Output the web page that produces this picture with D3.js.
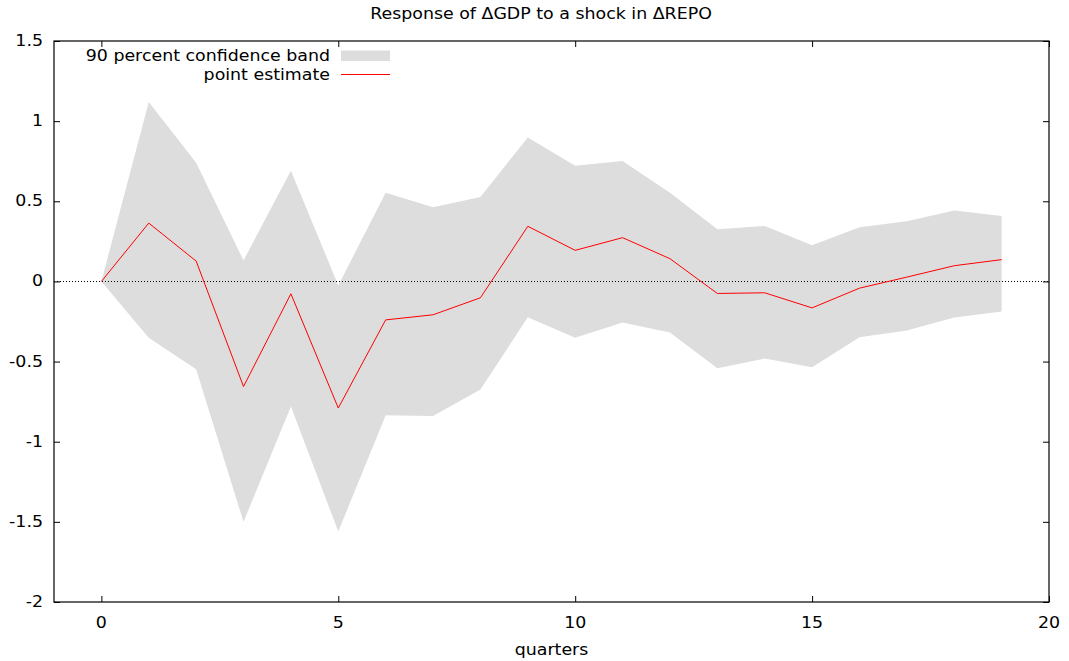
<!DOCTYPE html>
<html>
<head>
<meta charset="utf-8">
<script src="https://cdn.jsdelivr.net/npm/d3@7"></script>
<style>
  body { margin: 0; background: #fff; }
  text { font-family: "DejaVu Sans", sans-serif; fill: #000; font-size: 15px; }
</style>
</head>
<body>
<div id="chart"></div>
<script>
// horizon (quarters)
var quarters = d3.range(0, 20);
// point estimate of the impulse response
var pointEstimate = [0, 0.364, 0.127, -0.656, -0.077, -0.79, -0.24, -0.208, -0.102, 0.344,
  0.194, 0.273, 0.142, -0.075, -0.071, -0.165, -0.042, 0.027, 0.098, 0.136];
// 90 percent band
var upperBand = [0, 1.12, 0.74, 0.131, 0.69, -0.025, 0.554, 0.4625, 0.527, 0.898,
  0.721, 0.752, 0.554, 0.325, 0.346, 0.225, 0.3375, 0.375, 0.442, 0.408];
var lowerBand = [0, -0.352, -0.548, -1.5, -0.78, -1.56, -0.835, -0.84, -0.675, -0.223,
  -0.352, -0.256, -0.319, -0.542, -0.481, -0.535, -0.348, -0.306, -0.225, -0.1875];
var xTicks = [0, 5, 10, 15, 20];
var yTicks = [-2, -1.5, -1, -0.5, 0, 0.5, 1, 1.5];

// the reference font is wide (verdana-like), stretch DejaVu a bit
var stretch = 1.16;

function addText(parent, x, y, str, anchor) {
  return parent
    .append("text")
    .attr("transform", "translate(" + x + "," + y + ") scale(" + stretch + ",1)")
    .attr("text-anchor", anchor || "start")
    .text(str);
}

function init() {
  var w = 1069;
  var h = 661;
  var margin = { top: 41, right: 20, bottom: 59, left: 54 };

  var svg = d3
    .select("#chart")
    .append("svg")
    .attr("width", w)
    .attr("height", h);

  var x = d3.scaleLinear().domain([-1, 20]).range([margin.left, w - margin.right]);
  var y = d3.scaleLinear().domain([-2, 1.5]).range([h - margin.bottom, margin.top]);

  var data = quarters.map((q, i) => ({
    q: q,
    est: pointEstimate[i],
    lo: lowerBand[i],
    hi: upperBand[i]
  }));

  // Confidence band
  var area = d3
    .area()
    .x((d) => x(d.q))
    .y0((d) => y(d.lo))
    .y1((d) => y(d.hi));

  svg.append("path").datum(data).attr("d", area).attr("fill", "#dddddd");

  // Zero line
  svg
    .append("line")
    .attr("x1", x(-1))
    .attr("x2", x(20))
    .attr("y1", Math.round(y(0)) + 0.5)
    .attr("y2", Math.round(y(0)) + 0.5)
    .attr("stroke", "#000")
    .attr("stroke-width", 1)
    .attr("stroke-dasharray", "1,2");

  // Point estimate
  var line = d3
    .line()
    .x((d) => x(d.q))
    .y((d) => y(d.est));

  svg
    .append("path")
    .datum(data)
    .attr("d", line)
    .attr("fill", "none")
    .attr("stroke", "#ff0000")
    .attr("stroke-width", 1);

  // Axes, gnuplot style: ticks inside, mirrored
  var tickLen = 6;
  var yAxisL = d3.axisRight(y).tickValues(yTicks).tickSize(tickLen).tickFormat("");
  var yAxisR = d3.axisLeft(y).tickValues(yTicks).tickSize(tickLen).tickFormat("");
  var xAxisB = d3.axisTop(x).tickValues(xTicks).tickSize(tickLen).tickFormat("");
  var xAxisT = d3.axisBottom(x).tickValues(xTicks).tickSize(tickLen).tickFormat("");

  svg.append("g").attr("transform", "translate(" + margin.left + ",0)").call(yAxisL);
  svg.append("g").attr("transform", "translate(" + (w - margin.right) + ",0)").call(yAxisR);
  svg.append("g").attr("transform", "translate(0," + (h - margin.bottom) + ")").call(xAxisB);
  svg.append("g").attr("transform", "translate(0," + margin.top + ")").call(xAxisT);
  svg.selectAll(".domain").remove();
  svg.selectAll(".tick line").attr("stroke", "#000");

  // Border
  svg
    .append("rect")
    .attr("x", margin.left)
    .attr("y", margin.top)
    .attr("width", w - margin.left - margin.right)
    .attr("height", h - margin.top - margin.bottom)
    .attr("fill", "none")
    .attr("stroke", "#000")
    .attr("stroke-width", 1.2);

  // Tick labels
  yTicks.forEach((d) => addText(svg, margin.left - 11, y(d) + 5, d, "end"));
  xTicks.forEach((d) => addText(svg, x(d), h - margin.bottom + 26, d, "middle"));

  // Axis title
  addText(svg, (margin.left + w - margin.right) / 2, h - 6, "quarters", "middle");

  // Title
  addText(svg, 541, 19, "Response of \u0394GDP to a shock in \u0394REPO", "middle");

  // Legend
  var legend = svg.append("g").attr("transform", "translate(330,56)");
  addText(legend, 0, 5, "90 percent confidence band", "end");
  legend
    .append("rect")
    .attr("x", 11)
    .attr("y", -5.5)
    .attr("width", 49)
    .attr("height", 10.5)
    .attr("fill", "#dddddd");
  addText(legend, 0, 24, "point estimate", "end");
  legend
    .append("line")
    .attr("x1", 11)
    .attr("x2", 60)
    .attr("y1", 18.5)
    .attr("y2", 18.5)
    .attr("stroke", "#ff0000")
    .attr("stroke-width", 1);
}

window.onload = init;
</script>
</body>
</html>
